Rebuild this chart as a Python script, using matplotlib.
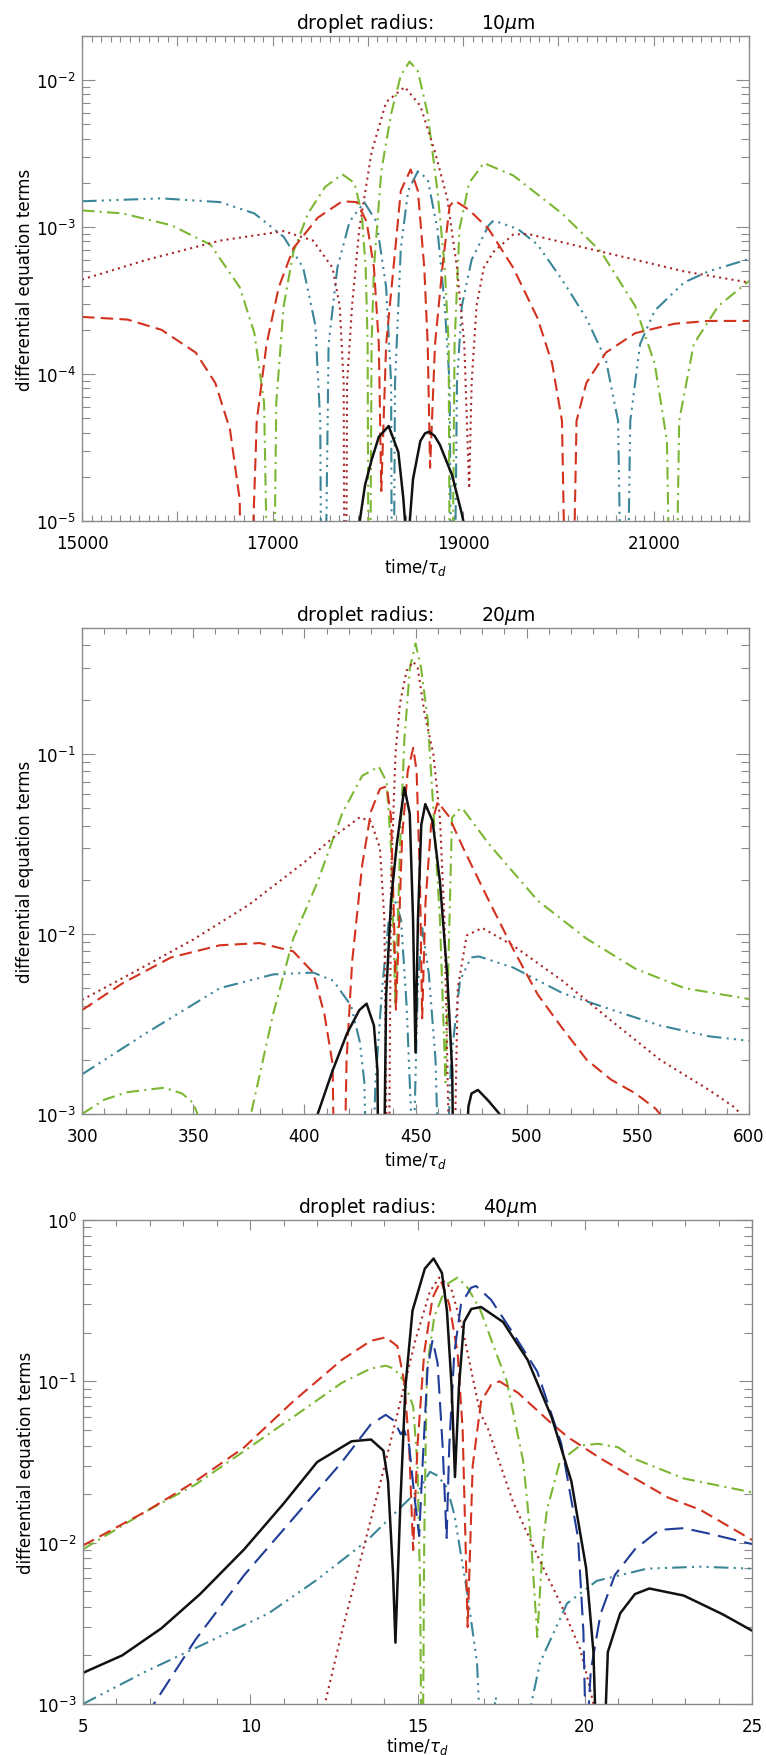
import numpy as np
import matplotlib
matplotlib.use("Agg")
import matplotlib.pyplot as plt
from matplotlib.ticker import MultipleLocator, FuncFormatter, LogLocator, NullFormatter

# ---- panel 1 : 10 micron ----
p1_black_x = [17900, 17915, 17970, 18039, 18115, 18218, 18320, 18372, 18390, 18397, 18432, 18440, 18474, 18551, 18600, 18643, 18700, 18756, 18884, 18986, 19002, 19038]
p1_black_y = [1e-6, 1e-5, 1.75e-5, 2.6e-5, 3.74e-5, 4.43e-5, 2.94e-5, 1.43e-5, 1e-5, 1e-7, 5e-6, 1e-5, 1.93e-5, 3.5e-5, 3.95e-5, 4.05e-5, 3.8e-5, 3.3e-5, 2.05e-5, 1.12e-5, 1e-5, 3e-6]

p1_red_x = [15000, 15477, 15835, 16194, 16399, 16553, 16655, 16696, 16834, 16937, 17065, 17219, 17475, 17731,
            17885, 17987, 18064, 18115, 18141, 18192, 18269, 18346, 18449, 18525, 18592, 18628, 18653,
            18705, 18782, 18858, 18910, 19063, 19268, 19525, 19781, 19934, 20037, 20114,
            20190, 20293, 20498, 20806, 21216, 21574, 22000]
p1_red_y = [2.45e-4, 2.35e-4, 2.0e-4, 1.4e-4, 8.7e-5, 4.2e-5, 1.4e-5, 1e-7, 4.8e-5, 1.6e-4, 3.9e-4, 7.2e-4, 1.16e-3, 1.5e-3,
            1.48e-3, 1.09e-3, 5.3e-4, 1.6e-4, 1.6e-5, 1.6e-4, 5.3e-4, 1.77e-3, 2.47e-3, 1.77e-3, 5.3e-4, 1.6e-4, 2.3e-5,
            1.6e-4, 5.3e-4, 1.39e-3, 1.52e-3, 1.31e-3, 9.7e-4, 5.3e-4, 2.4e-4, 1.18e-4, 4.8e-5, 1e-7,
            4.8e-5, 8.7e-5, 1.4e-4, 1.9e-4, 2.2e-4, 2.3e-4, 2.3e-4]

p1_dot_x = [15000, 15681, 16450, 17116, 17424, 17629, 17705, 17746, 17762, 17782, 17834, 17910, 18039, 18192, 18387,
            18551, 18705, 18833, 18935, 19012, 19053, 19063, 19089, 19140, 19217, 19320, 19525, 19678, 20293,
            20806, 21318, 22000]
p1_dot_y = [4.4e-4, 6.0e-4, 8.1e-4, 9.4e-4, 8.1e-4, 5.3e-4, 2.9e-4, 8.7e-5, 1e-7, 8.7e-5, 2.9e-4, 9.7e-4, 3.24e-3, 7.1e-3, 9.0e-3,
            6.7e-3, 3.24e-3, 1.57e-3, 5.3e-4, 1.6e-4, 2.6e-5, 1.66e-5, 8.7e-5, 2.9e-4, 5.3e-4, 6.8e-4, 8.9e-4, 9.0e-4, 7.2e-4,
            6.0e-4, 5.0e-4, 4.2e-4]

p1_green_x = [15000, 15425, 15938, 16348, 16655, 16809, 16911, 16988, 17039, 17116, 17219, 17372, 17552, 17731,
              17859, 17936, 17977, 17998, 18013, 18039, 18064, 18141, 18244, 18346, 18438, 18525, 18628,
              18730, 18807, 18848, 18869, 18910, 18961, 19063, 19217, 19525, 20037, 20447, 20806, 21010, 21139, 21205,
              21267, 21420, 21677, 22000]
p1_green_y = [1.30e-3, 1.24e-3, 1.03e-3, 7.6e-4, 3.9e-4, 1.9e-4, 6.4e-5, 1e-7, 6.4e-5, 2.9e-4, 6.8e-4, 1.24e-3, 1.88e-3, 2.29e-3,
              2.0e-3, 1.24e-3, 5.3e-4, 1.6e-4, 1e-7, 1.6e-4, 5.3e-4, 2.4e-3, 5.9e-3, 1.08e-2, 1.34e-2, 1.15e-2, 5.9e-3,
              1.77e-3, 5.3e-4, 1.6e-4, 1e-7, 1.6e-4, 9.7e-4, 2.0e-3, 2.73e-3, 2.25e-3, 1.24e-3, 6.8e-4, 2.9e-4, 1.18e-4, 3.5e-5, 1e-7,
              4.8e-5, 1.6e-4, 2.9e-4, 4.3e-4]

p1_teal_x = [15000, 15835, 16450, 16809, 17116, 17321, 17449, 17500, 17526, 17588, 17680, 17808, 17962, 18090, 18192,
             18244, 18259, 18285, 18346, 18423, 18525, 18628, 18730, 18807, 18858, 18890, 18935, 18986, 19089, 19268,
             19320, 19576, 19781, 20037, 20293, 20498, 20626, 20693, 20754, 20857, 21010, 21318, 21574, 22000]
p1_teal_y = [1.50e-3, 1.57e-3, 1.48e-3, 1.24e-3, 8.6e-4, 5.3e-4, 2.15e-4, 4.8e-5, 1e-7, 1.6e-4, 5.3e-4, 1.09e-3, 1.48e-3, 1.09e-3, 3.9e-4,
             8.7e-5, 1e-7, 8.7e-5, 7.2e-4, 1.77e-3, 2.4e-3, 2.12e-3, 9.7e-4, 2.9e-4, 8.7e-5, 1e-7, 8.7e-5, 2.9e-4, 6.0e-4, 1.03e-3,
             1.11e-3, 9.7e-4, 7.6e-4, 4.4e-4, 2.4e-4, 1.25e-4, 4.8e-5, 1e-7, 4.8e-5, 1.6e-4, 2.7e-4, 4.2e-4, 5.0e-4, 6.07e-4]

# ---- panel 2 : 20 micron ----
p2_black_x = [404, 406, 412.7, 419.2, 424.7, 428.0, 431.3, 432.9, 434.2, 436.8, 439.0, 441.6, 445.0, 447.4, 448.9, 450.0,
              451.1, 452.6, 454.4, 457.7, 461.0, 464.3, 466.5, 468.7, 472.5, 473.8, 475.2, 478.1, 482.9, 487.8, 490]
p2_black_y = [5e-4, 1e-3, 1.74e-3, 2.8e-3, 3.77e-3, 4.1e-3, 3.1e-3, 1.74e-3, 1e-5, 4.57e-3, 1.53e-2, 3.16e-2, 6.5e-2, 4.66e-2, 1.2e-2, 2.2e-3,
              1.2e-2, 4.03e-2, 5.26e-2, 4.23e-2, 1.95e-2, 5.8e-3, 1.74e-3, 1e-5, 5e-4, 1.1e-3, 1.3e-3, 1.36e-3, 1.18e-3, 1e-3, 5e-4]

p2_red_x = [300, 318, 340, 362, 380, 395, 404, 409, 412.7, 415.5, 419, 421.5, 426, 430, 434, 437, 439, 440.5, 441.2,
            442.5, 444, 446.5, 449, 450.5, 452, 453, 454.5, 457, 460, 465, 472, 483, 494, 505, 516, 527, 538, 549, 558, 563]
p2_red_y = [3.77e-3, 5.3e-3, 7.4e-3, 8.65e-3, 8.9e-3, 8.0e-3, 6.1e-3, 3.6e-3, 1.9e-3, 1e-5, 2e-3, 7e-3, 2.4e-2, 4.8e-2, 6.4e-2, 6.6e-2, 4.5e-2, 1e-2, 3.8e-3,
            1e-2, 3.5e-2, 8e-2, 1.08e-1, 8e-2, 2e-2, 3.4e-3, 1.5e-2, 4e-2, 5.4e-2, 4.5e-2, 2.9e-2, 1.53e-2, 8.2e-3, 4.6e-3, 3.0e-3, 2.0e-3, 1.55e-3, 1.3e-3, 1.07e-3, 9e-4]

p2_dot_x = [300, 325, 350, 375, 400, 415, 425, 430, 434, 436, 437.7, 439, 441, 443, 446, 449, 451, 454, 458, 461, 463, 466.4,
            469, 473, 480, 494, 516, 538, 560, 582, 593, 600]
p2_dot_y = [4.3e-3, 6.3e-3, 9.3e-3, 1.45e-2, 2.5e-2, 3.6e-2, 4.45e-2, 4.2e-2, 3.0e-2, 1.2e-2, 1e-4, 2e-2, 1e-1, 1.9e-1, 2.9e-1, 3.25e-1, 3.0e-1, 1.7e-1, 1e-1, 4.4e-2, 1.2e-2, 1e-4,
            5e-3, 9.8e-3, 1.08e-2, 8.6e-3, 5.5e-3, 3.3e-3, 2.0e-3, 1.36e-3, 1.1e-3, 9e-4]

p2_green_x = [300, 310, 320, 337, 345, 350, 355, 365, 372, 376, 386, 395, 406, 417, 426, 433.5, 437, 439, 441,
              443, 445, 447.5, 450, 452.5, 455.5, 458, 461, 463.5, 466.4, 469, 471, 483, 505, 527, 549, 571, 600]
p2_green_y = [1.0e-3, 1.2e-3, 1.32e-3, 1.4e-3, 1.3e-3, 1.15e-3, 8e-4, 1e-4, 4e-4, 1e-3, 3.6e-3, 9.4e-3, 1.95e-2, 4.66e-2, 7.55e-2, 8.5e-2, 7e-2, 3e-2, 4e-3,
              3e-2, 1.2e-1, 3e-1, 4.1e-1, 3e-1, 1.55e-1, 5e-2, 1.2e-2, 1.5e-3, 4.4e-2, 4.85e-2, 5e-2, 3.16e-2, 1.53e-2, 9.4e-3, 6.4e-3, 5.0e-3, 4.35e-3]

p2_teal_x = [300, 329, 362, 386, 404, 413, 421, 425, 427, 429, 432, 435, 438, 441, 443.5, 446, 449,
             451, 453, 456, 459, 462, 466, 470, 475, 478.5, 494, 516, 538, 560, 582, 600]
p2_teal_y = [1.66e-3, 2.82e-3, 5.0e-3, 5.96e-3, 6.1e-3, 5.5e-3, 4.0e-3, 2.5e-3, 1.5e-3, 1e-4, 1.5e-3, 5e-3, 1.2e-2, 1.5e-2, 1.2e-2, 4e-3, 5e-4,
             5e-3, 1.08e-2, 6e-3, 2e-3, 1e-4, 2e-3, 5.5e-3, 7.4e-3, 7.5e-3, 6.5e-3, 4.7e-3, 3.8e-3, 3.1e-3, 2.7e-3, 2.55e-3]

# ---- panel 3 : 40 micron ----
p3_black_x = [5, 6.17, 7.34, 8.5, 9.82, 10.99, 12.0, 13.03, 13.61, 13.98, 14.12, 14.27, 14.34, 14.49, 14.64, 14.85, 15.22, 15.48,
              15.73, 15.88, 16.02, 16.12, 16.24, 16.39, 16.61, 16.9, 17.56, 18.29, 19.01, 19.6, 20.04, 20.26, 20.45, 20.69,
              21.06, 21.5, 21.93, 22.96, 24.12, 25]
p3_black_y = [1.56e-3, 2.0e-3, 2.94e-3, 4.8e-3, 9.1e-3, 1.74e-2, 3.16e-2, 4.25e-2, 4.36e-2, 3.72e-2, 2.4e-2, 6.3e-3, 2.4e-3, 1.8e-2, 9.3e-2, 2.74e-1, 5.0e-1, 5.77e-1,
              4.7e-1, 2.74e-1, 9.3e-2, 2.55e-2, 9.3e-2, 2.33e-1, 2.81e-1, 2.89e-1, 2.33e-1, 1.36e-1, 6.0e-2, 2.4e-2, 7e-3, 2.1e-3, 1e-4, 2.1e-3,
              3.65e-3, 4.8e-3, 5.2e-3, 4.7e-3, 3.6e-3, 2.85e-3]

p3_red_x = [5, 6.9, 8.36, 9.82, 11.28, 12.74, 13.6, 14.05, 14.4, 14.6, 14.75, 14.87, 15.0, 15.2, 15.45, 15.7, 15.95, 16.2,
            16.35, 16.5, 16.65, 16.9, 17.2, 17.45, 18.0, 19.0, 19.5, 20.5, 21.5, 22.5, 23.45, 24.2, 25]
p3_red_y = [9.6e-3, 1.57e-2, 2.4e-2, 3.9e-2, 7.5e-2, 1.36e-1, 1.78e-1, 1.875e-1, 1.65e-1, 1e-1, 4e-2, 9e-3, 4e-2, 1.5e-1, 3.3e-1, 4.2e-1, 3e-1, 1.5e-1,
            5e-2, 3e-3, 3e-2, 7.5e-2, 9.5e-2, 1e-1, 8.5e-2, 5.5e-2, 4.5e-2, 3.3e-2, 2.5e-2, 1.9e-2, 1.6e-2, 1.3e-2, 1.04e-2]

p3_dot_x = [12.0, 12.23, 12.74, 13.32, 13.9, 14.49, 14.93, 15.37, 15.65, 16.0, 16.35, 16.87, 17.12, 17.85, 18.6, 19.3, 19.86, 20.1, 20.26, 20.45]
p3_dot_y = [4e-4, 1e-3, 2.8e-3, 8.2e-3, 2.4e-2, 7.5e-2, 1.78e-1, 3.6e-1, 4.4e-1, 3.8e-1, 2.1e-1, 6.4e-2, 5e-2, 1.8e-2, 8.2e-3, 4.1e-3, 2.2e-3, 1.4e-3, 1e-3, 5e-4]

p3_green_x = [5, 6.9, 8.36, 9.82, 11.28, 12.74, 13.6, 14.05, 14.3, 14.6, 14.87, 15.0, 15.08, 15.14, 15.2, 15.28, 15.5, 15.88,
              16.2, 16.5, 16.87, 17.3, 17.67, 18.16, 18.4, 18.58, 18.75, 18.87, 19.26, 19.86, 20.4, 21.0, 21.5, 22.96, 25]
p3_green_y = [9.1e-3, 1.57e-2, 2.29e-2, 3.7e-2, 6e-2, 9.8e-2, 1.2e-1, 1.25e-1, 1.2e-1, 1e-1, 7e-2, 3e-2, 5e-3, 1e-4, 1e-2, 1.2e-1, 2.5e-1, 4e-1,
              4.4e-1, 3.8e-1, 2.8e-1, 1.6e-1, 1e-1, 3.2e-2, 1e-2, 2.6e-3, 1e-2, 1.6e-2, 3.2e-2, 4e-2, 4.1e-2, 3.9e-2, 3.3e-2, 2.5e-2, 2.05e-2]

p3_blue_x = [7.0, 7.12, 8.36, 9.82, 11.28, 12.74, 13.6, 14.05, 14.3, 14.5, 14.6, 14.75, 14.9, 15.05, 15.15, 15.3, 15.45, 15.6,
             15.75, 15.87, 15.95, 16.1, 16.3, 16.6, 16.75, 17.2, 17.85, 18.58, 19.3, 19.8, 19.96, 20.04, 20.18, 20.47,
             20.9, 21.5, 22.23, 22.96, 23.7, 25]
p3_blue_y = [8e-4, 1e-3, 2.5e-3, 6.3e-3, 1.41e-2, 3.16e-2, 5.4e-2, 6.2e-2, 5.7e-2, 4.7e-2, 5e-2, 4e-2, 2e-2, 1.1e-2, 3e-2, 1.2e-1, 1.8e-1, 1.3e-1,
             4e-2, 1.07e-2, 4e-2, 1.5e-1, 3e-1, 3.8e-1, 3.9e-1, 3.2e-1, 2e-1, 1.15e-1, 4.1e-2, 1.07e-2, 2.8e-3, 5e-4, 1.6e-3, 3.6e-3,
             6.3e-3, 9.1e-3, 1.2e-2, 1.23e-2, 1.14e-2, 9.8e-3]

p3_teal_x = [5, 6.9, 8.65, 10.55, 12.0, 13.47, 14.49, 15.07, 15.37, 15.6, 15.88, 16.1, 16.48, 16.78, 16.9, 17.1, 17.34, 17.5,
             18.15, 18.4, 18.66, 19.47, 20.36, 21.86, 23.45, 25]
p3_teal_y = [1e-3, 1.6e-3, 2.37e-3, 3.65e-3, 5.9e-3, 1.02e-2, 1.65e-2, 2.16e-2, 2.75e-2, 2.6e-2, 2.2e-2, 1.5e-2, 5e-3, 1.8e-3, 5e-4, 5e-4, 1.1e-3, 5e-4,
             5e-4, 1e-3, 1.8e-3, 4.2e-3, 5.8e-3, 6.9e-3, 7.1e-3, 6.9e-3]

radii = ["10", "20", "40"]

# line styles (IDL look)
st_black = dict(color="#111111", lw=1.8, ls="-")
st_red = dict(color="#d2321e", lw=1.5, ls=(0, (6, 3)))
st_dot = dict(color="#a8282a", lw=1.5, ls=(0, (1, 2)))
st_green = dict(color="#7cb733", lw=1.5, ls=(0, (6, 2.5, 1, 2.5)))
st_teal = dict(color="#3a8698", lw=1.5, ls=(0, (7, 2.5, 1, 2.5, 1, 2.5, 1, 2.5)))
st_blue = dict(color="#1f3c98", lw=1.5, ls=(0, (9, 4)))

grey = "#8a8a8a"

fig = plt.figure(figsize=(7.66, 17.56), dpi=100)
W, H = 766.0, 1756.0


def frame(left, top, right, bottom):
    return fig.add_axes([left / W, 1 - bottom / H, (right - left) / W, (bottom - top) / H])


def setup(ax, xlim, ylim, major, minor, step, radius, lpad=3):
    ax.set_yscale("log")
    ax.set_xlim(*xlim)
    ax.set_ylim(*ylim)
    ax.xaxis.set_major_locator(MultipleLocator(major))
    ax.xaxis.set_minor_locator(MultipleLocator(minor))
    x0 = xlim[0]
    ax.xaxis.set_major_formatter(FuncFormatter(
        lambda v, p: "%d" % round(v) if abs(((v - x0) / step) - round((v - x0) / step)) < 1e-6 else ""))
    ax.yaxis.set_major_locator(LogLocator(base=10))
    ax.yaxis.set_minor_locator(LogLocator(base=10, subs=np.arange(2, 10)))
    ax.yaxis.set_minor_formatter(NullFormatter())
    ax.tick_params(which="both", direction="in", top=True, right=True, colors=grey,
                   labelcolor="black", labelsize=12, width=0.8)
    ax.tick_params(axis="x", which="major", length=7, pad=9.5)
    ax.tick_params(axis="x", which="minor", length=4)
    ax.tick_params(axis="y", which="major", length=9.5, pad=4.5)
    ax.tick_params(axis="y", which="minor", length=5.5)
    for s in ax.spines.values():
        s.set_color(grey)
        s.set_linewidth(1.0)
    ax.set_title("droplet radius:        " + radius + r"$\mu$m", fontsize=13.5, pad=6)
    ax.set_xlabel(r"time/$\tau_d$", fontsize=12, labelpad=lpad)
    ax.set_ylabel("differential equation terms", fontsize=12)
    ax.yaxis.set_label_coords(-0.072, 0.5)


ax1 = frame(82, 37, 749, 522)
ax1.plot(p1_teal_x, p1_teal_y, **st_teal)
ax1.plot(p1_green_x, p1_green_y, **st_green)
ax1.plot(p1_dot_x, p1_dot_y, **st_dot)
ax1.plot(p1_red_x, p1_red_y, **st_red)
ax1.plot(p1_black_x, p1_black_y, **st_black)
setup(ax1, (15000, 22000), (1e-5, 2.0e-2), 1000, 100, 2000, radii[0])

ax2 = frame(82, 629, 749, 1115)
ax2.plot(p2_teal_x, p2_teal_y, **st_teal)
ax2.plot(p2_green_x, p2_green_y, **st_green)
ax2.plot(p2_dot_x, p2_dot_y, **st_dot)
ax2.plot(p2_red_x, p2_red_y, **st_red)
ax2.plot(p2_black_x, p2_black_y, **st_black)
setup(ax2, (300, 600), (1e-3, 0.5), 50, 10, 50, radii[1])

ax3 = frame(83, 1221, 752, 1705)
ax3.plot(p3_teal_x, p3_teal_y, **st_teal)
ax3.plot(p3_green_x, p3_green_y, **st_green)
ax3.plot(p3_dot_x, p3_dot_y, **st_dot)
ax3.plot(p3_red_x, p3_red_y, **st_red)
ax3.plot(p3_blue_x, p3_blue_y, **st_blue)
ax3.plot(p3_black_x, p3_black_y, **st_black)
setup(ax3, (5, 25), (1e-3, 1.0), 5, 1, 5, radii[2], lpad=0)

fig.savefig("out.png", dpi=100)
